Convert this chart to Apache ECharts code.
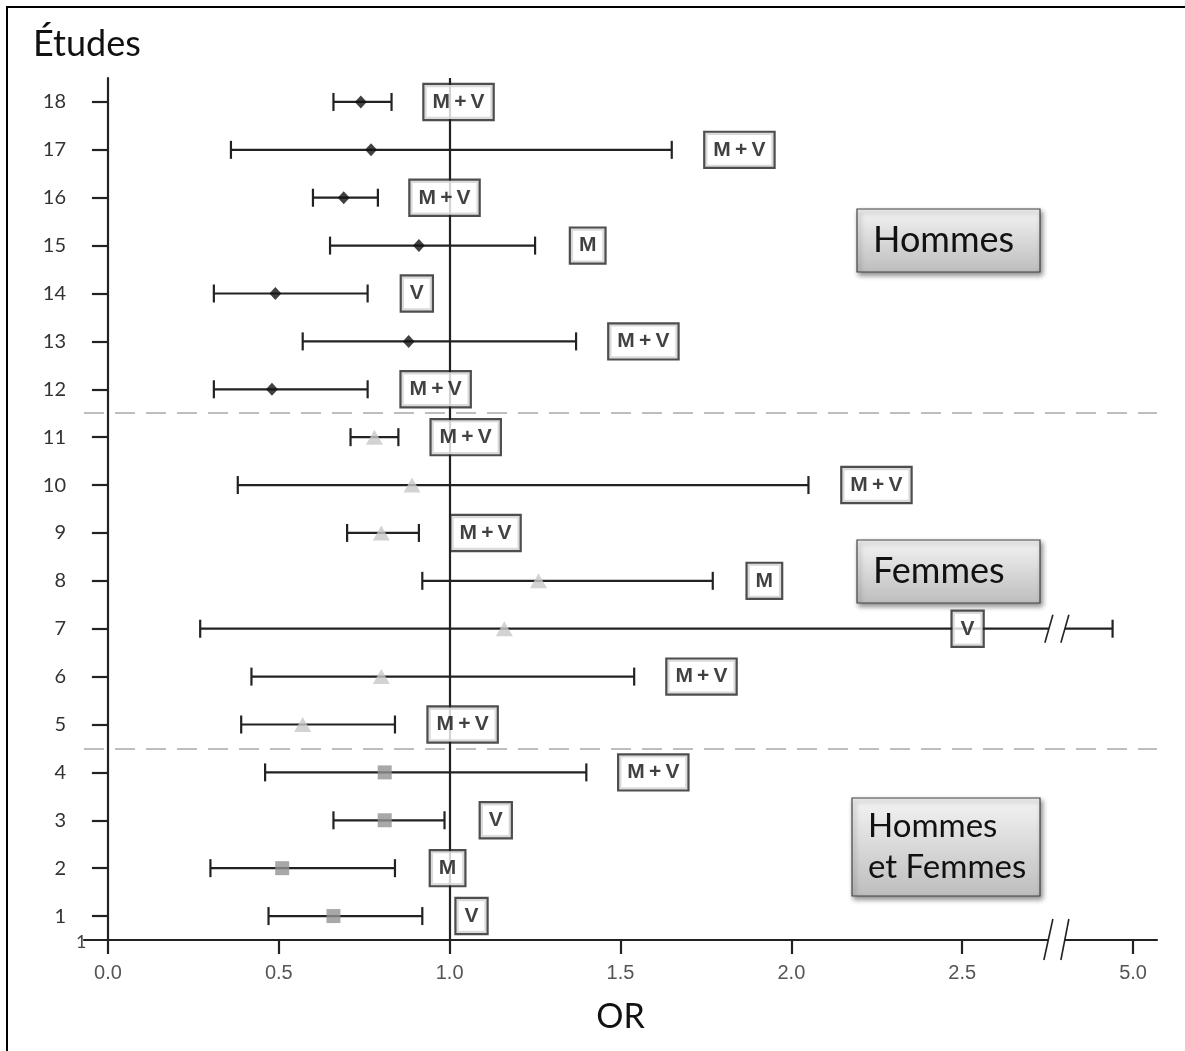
<!DOCTYPE html>
<html><head><meta charset="utf-8">
<script src="https://cdn.jsdelivr.net/npm/echarts@6/dist/echarts.min.js"></script>
<style>html,body{margin:0;padding:0;background:#fff}#c{width:1185px;height:1051px}</style>
</head><body><div id="c"></div>
<script>
// ---------- data ----------
const studies      = [1, 2, 3, 4, 5, 6, 7, 8, 9, 10, 11, 12, 13, 14, 15, 16, 17, 18];
const oddsRatio    = [0.66, 0.51, 0.81, 0.81, 0.57, 0.80, 1.16, 1.26, 0.80, 0.89, 0.78, 0.48, 0.88, 0.49, 0.91, 0.69, 0.77, 0.74];
const ciLow        = [0.47, 0.30, 0.66, 0.46, 0.39, 0.42, 0.27, 0.92, 0.70, 0.38, 0.71, 0.31, 0.57, 0.31, 0.65, 0.60, 0.36, 0.66];
const ciHigh       = [0.92, 0.84, 0.985, 1.40, 0.84, 1.54, 4.70, 1.77, 0.91, 2.05, 0.85, 0.76, 1.37, 0.76, 1.25, 0.79, 1.65, 0.83];
const adjustment   = ['V', 'M', 'V', 'M + V', 'M + V', 'M + V', 'V', 'M', 'M + V', 'M + V', 'M + V', 'M + V', 'M + V', 'V', 'M', 'M + V', 'M + V', 'M + V'];
const labelAnchor  = [1.064, 0.994, 1.135, 1.596, 1.038, 1.737, 2.579, 1.921, 1.105, 2.249, 1.047, 0.959, 1.567, 0.904, 1.404, 0.985, 1.848, 1.026];
const groupOf      = ['both','both','both','both','women','women','women','women','women','women','women','men','men','men','men','men','men','men'];
const groupNames   = ['Hommes', 'Femmes', 'Hommes\net Femmes'];
const groupSeparators = [11.5, 4.5];
const xTickValues  = [0, 0.5, 1, 1.5, 2, 2.5, 5];
const xTickLabels  = ['0.0', '0.5', '1.0', '1.5', '2.0', '2.5', '5.0'];
const yTickLabels  = studies.map(String);
const referenceOR  = 1;

// broken axis: above 2.5 the scale is compressed (5.0 sits where 3.0 would be)
const BREAK_AT = 2.5, BREAK_SCALE = 0.2, BREAK_MARK = 2.777;
function toAxis(v) { return v <= BREAK_AT ? v : BREAK_AT + (v - BREAK_AT) * BREAK_SCALE; }
const xTickAxis = xTickValues.map(toAxis);

const FONT = 'Lato, "Open Sans", sans-serif';
const ARIAL = '"Liberation Sans", Arial, sans-serif';
const chart = echarts.init(document.getElementById('c'), null, {renderer: 'canvas'});

function idxOfGroup(g) { return studies.map((s, i) => i).filter(i => groupOf[i] === g); }

const errorData = studies.map((s, i) => [toAxis(ciLow[i]), s, toAxis(ciHigh[i])]);

const option = {
  animation: false,
  backgroundColor: '#fff',
  grid: {left: 84, right: 28, top: 78, bottom: 111, outerBoundsMode: 'none'},
  xAxis: {
    type: 'value', min: -0.07, max: 3.07,
    splitLine: {show: false},
    axisLine: {show: true, lineStyle: {color: '#222', width: 2.2}},
    axisTick: {show: true, customValues: xTickAxis, length: 14, inside: false, lineStyle: {color: '#222', width: 2.2}},
    axisLabel: {
      customValues: xTickAxis, margin: 23, fontSize: 20, color: '#555', fontFamily: ARIAL,
      formatter: v => { const k = xTickAxis.findIndex(t => Math.abs(t - v) < 1e-6); return k >= 0 ? xTickLabels[k] : ''; }
    },
    name: 'OR', nameLocation: 'middle', nameGap: 60,
    nameTextStyle: {fontSize: 34, color: '#111', fontFamily: FONT}
  },
  yAxis: {
    type: 'value', min: 0.5, max: 18.5,
    splitLine: {show: false},
    axisLine: {show: true, lineStyle: {color: '#222', width: 2.2}},
    axisTick: {show: true, customValues: studies, length: 16, lineStyle: {color: '#222', width: 2.2}},
    axisLabel: {
      customValues: studies, margin: 18, fontSize: 20, color: '#333', fontFamily: FONT,
      formatter: v => { const k = studies.indexOf(Math.round(v)); return k >= 0 ? yTickLabels[k] : ''; }
    }
  },
  series: [
    {
      type: 'custom', name: 'IC', z: 2, silent: true,
      encode: {x: [0, 2], y: 1},
      data: errorData,
      renderItem: function (params, api) {
        const y = api.value(1);
        const p1 = api.coord([api.value(0), y]);
        const p2 = api.coord([api.value(2), y]);
        const st = {stroke: '#222', lineWidth: 2.2};
        const ch = [
          {type: 'line', shape: {x1: p1[0], y1: p1[1], x2: p2[0], y2: p2[1]}, style: st},
          {type: 'line', shape: {x1: p1[0], y1: p1[1] - 9, x2: p1[0], y2: p1[1] + 9}, style: st},
          {type: 'line', shape: {x1: p2[0], y1: p2[1] - 9, x2: p2[0], y2: p2[1] + 9}, style: st}
        ];
        if (api.value(2) > BREAK_MARK) {
          const b = api.coord([BREAK_MARK, y]);
          ch.push({type: 'rect', shape: {x: b[0] - 8, y: b[1] - 3, width: 16, height: 6}, style: {fill: '#fff'}});
          [-8, 8].forEach(d => ch.push({type: 'line', shape: {x1: b[0] + d - 4, y1: b[1] + 14, x2: b[0] + d + 4, y2: b[1] - 14}, style: {stroke: '#222', lineWidth: 1.6}}));
        }
        return {type: 'group', children: ch};
      },
      markLine: {
        silent: true, symbol: 'none', label: {show: false}, animation: false,
        data: [
          {xAxis: referenceOR, lineStyle: {color: '#222', width: 2.2, type: 'solid'}},
          ...groupSeparators.map(v => ({yAxis: v, lineStyle: {color: '#bdbdbd', width: 2, type: [20, 11]}}))
        ]
      }
    },
    {
      type: 'scatter', name: 'Hommes', z: 3, symbol: 'diamond', symbolSize: [12, 13],
      itemStyle: {color: '#111'},
      data: idxOfGroup('men').map(i => [toAxis(oddsRatio[i]), studies[i]])
    },
    {
      type: 'scatter', name: 'Femmes', z: 3, symbol: 'triangle', symbolSize: [17, 15],
      itemStyle: {color: '#c8c8c8'},
      data: idxOfGroup('women').map(i => [toAxis(oddsRatio[i]), studies[i]])
    },
    {
      type: 'scatter', name: 'Hommes et Femmes', z: 3, symbol: 'rect', symbolSize: [14, 14],
      itemStyle: {color: '#929292'},
      data: idxOfGroup('both').map(i => [toAxis(oddsRatio[i]), studies[i]])
    },
    {
      type: 'scatter', name: 'ajustement', z: 5, silent: true, symbol: 'rect', symbolSize: 1,
      itemStyle: {color: 'rgba(0,0,0,0)'},
      data: studies.map((s, i) => [toAxis(labelAnchor[i]), s, adjustment[i]]),
      label: {
        show: true, position: 'inside', formatter: p => String(p.value[2]).replace(/ /g, '\u2009'),
        fontFamily: ARIAL, fontWeight: 'bold', fontSize: 21, color: '#111',
        backgroundColor: '#fff', borderColor: '#222', borderWidth: 2.2,
        padding: [7, 8, 6, 8]
      }
    }
  ]
};
chart.setOption(option);

// ---------- decorations ----------
function groupBox(x, y, w, h, text, size) {
  return {
    type: 'group', x: x, y: y, z: 10,
    children: [
      {type: 'rect', shape: {x: 0, y: 0, width: w, height: h},
       style: {fill: new echarts.graphic.LinearGradient(0, 0, 0, 1, [{offset: 0, color: '#f4f4f4'}, {offset: 1, color: '#bdbdbd'}]),
               stroke: '#444', lineWidth: 1.2, shadowBlur: 5, shadowOffsetX: 2, shadowOffsetY: 3, shadowColor: 'rgba(0,0,0,0.45)'}},
      {type: 'text', x: 16, y: h / 2, style: {text: text, font: size + 'px ' + FONT, fill: '#111', verticalAlign: 'middle', lineHeight: 41}}
    ]
  };
}
const bp = chart.convertToPixel({gridIndex: 0}, [BREAK_MARK, 0.5]);
chart.setOption({
  graphic: [
    {type: 'rect', z: 20, shape: {x: 7, y: 7, width: 1200, height: 1100}, style: {fill: 'none', stroke: '#000', lineWidth: 2}},
    {type: 'text', z: 20, x: 33, y: 26, style: {text: 'Études', font: '36px ' + FONT, fill: '#111'}},
    {type: 'text', z: 20, x: 76, y: 933, style: {text: '1', font: '18px ' + FONT, fill: '#444'}},
    groupBox(857, 209, 183, 63, groupNames[0], 36),
    groupBox(857, 540, 183, 63, groupNames[1], 36),
    groupBox(852, 798, 188, 98, groupNames[2], 33),
    {type: 'rect', z: 20, shape: {x: bp[0] - 8, y: bp[1] - 3, width: 16, height: 6}, style: {fill: '#fff'}},
    {type: 'line', z: 21, shape: {x1: bp[0] - 13, y1: bp[1] + 20, x2: bp[0] - 4, y2: bp[1] - 21}, style: {stroke: '#222', lineWidth: 1.6}},
    {type: 'line', z: 21, shape: {x1: bp[0] + 4, y1: bp[1] + 20, x2: bp[0] + 12, y2: bp[1] - 21}, style: {stroke: '#222', lineWidth: 1.6}}
  ]
});
</script></body></html>
